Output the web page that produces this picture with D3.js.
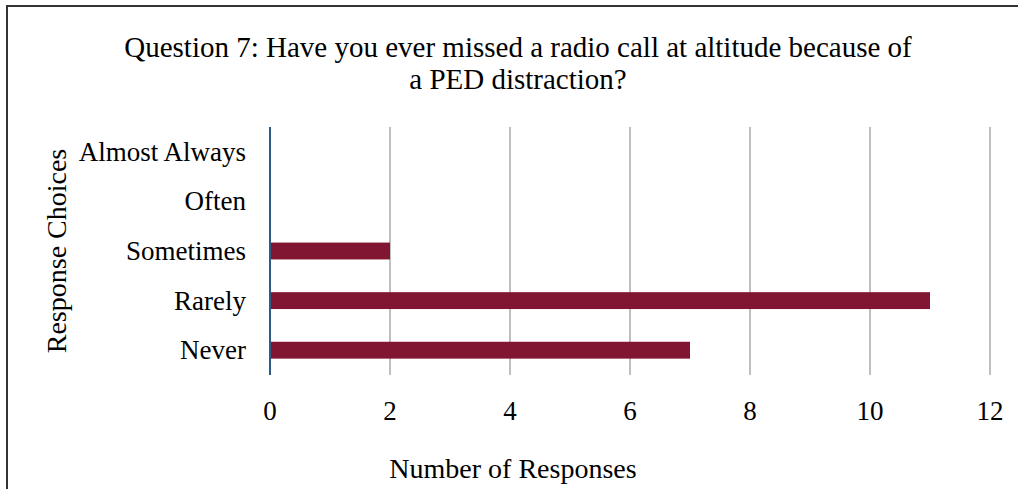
<!DOCTYPE html>
<html><head><meta charset="utf-8">
<script src="https://cdn.jsdelivr.net/npm/d3@7"></script>
<style>body{margin:0;background:#fff}svg{display:block}text{font-family:"Liberation Serif","Times New Roman",serif;fill:#000}</style>
</head><body><svg id="c" width="1018" height="489"></svg>
<script>
const categories = ["Almost Always", "Often", "Sometimes", "Rarely", "Never"];
const values = [0, 0, 2, 11, 7];
const xTicks = [0, 2, 4, 6, 8, 10, 12];
const titleLines = ["Question 7: Have you ever missed a radio call at altitude because of", "a PED distraction?"];
const xTitle = "Number of Responses";
const yTitle = "Response Choices";

const svg = d3.select("#c");
svg.append("rect").attr("x", 7).attr("y", 6).attr("width", 1030).attr("height", 500)
  .attr("fill", "none").attr("stroke", "#333").attr("stroke-width", 2);

const x = d3.scaleLinear().domain([0, 12]).range([270, 990]);
const y = d3.scaleBand().domain(categories).range([127, 375]).paddingInner(0.66).paddingOuter(0.33);

// gridlines
svg.append("g").selectAll("line").data(xTicks.filter(d => d > 0)).join("line")
  .attr("x1", d => x(d)).attr("x2", d => x(d)).attr("y1", 127).attr("y2", 375)
  .attr("stroke", "#bfbfbf").attr("stroke-width", 2);

// bars
svg.append("g").selectAll("rect").data(values).join("rect")
  .attr("x", x(0)).attr("y", (d, i) => y(categories[i]))
  .attr("width", d => x(d) - x(0)).attr("height", y.bandwidth())
  .attr("fill", "#811632");

// y axis line
svg.append("line").attr("x1", x(0)).attr("x2", x(0)).attr("y1", 127).attr("y2", 375)
  .attr("stroke", "#2E5A88").attr("stroke-width", 2);

// category labels
svg.append("g").selectAll("text").data(categories).join("text")
  .attr("x", 246).attr("y", d => y(d) + y.bandwidth() / 2)
  .attr("dy", "0.33em").attr("text-anchor", "end").attr("font-size", 27).text(d => d);

// x tick labels
svg.append("g").selectAll("text").data(xTicks).join("text")
  .attr("x", d => x(d)).attr("y", 420).attr("text-anchor", "middle").attr("font-size", 27).text(d => d);

// titles
svg.append("g").selectAll("text").data(titleLines).join("text")
  .attr("x", 518).attr("y", (d, i) => 57 + i * 32).attr("text-anchor", "middle").attr("font-size", 29).text(d => d);

svg.append("text").attr("x", 513).attr("y", 478).attr("text-anchor", "middle").attr("font-size", 28).text(xTitle);
svg.append("text").attr("transform", "translate(66,251) rotate(-90)").attr("text-anchor", "middle").attr("font-size", 28).text(yTitle);
</script></body></html>
